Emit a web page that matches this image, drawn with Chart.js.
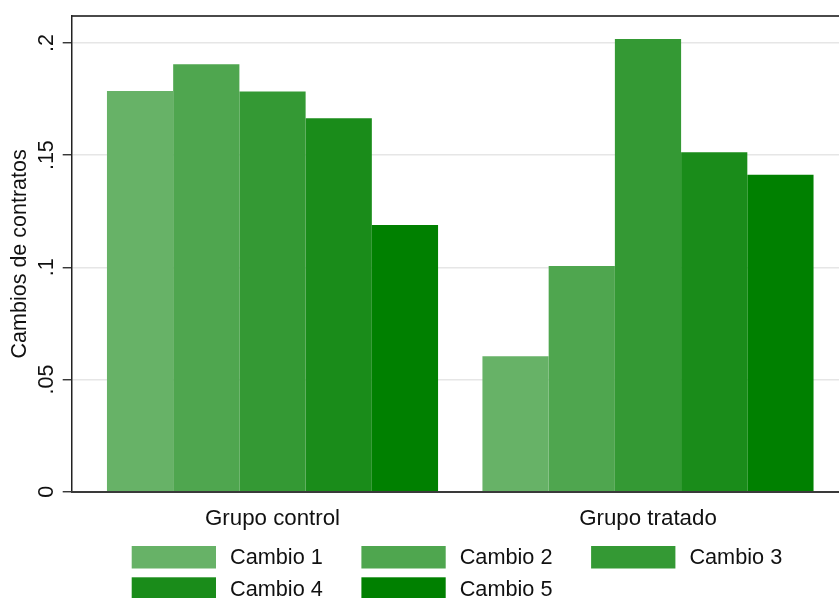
<!DOCTYPE html>
<html>
<head>
<meta charset="utf-8">
<script src="https://cdn.jsdelivr.net/npm/chart.js@4.4.1/dist/chart.umd.min.js"></script>
<style>
  html, body { margin: 0; padding: 0; background: #fff; }
  #wrap { width: 839px; height: 598px; position: relative; }
</style>
</head>
<body>
<div id="wrap"><canvas id="c"></canvas></div>
<script>
// ---- data ----
const categories = ['Grupo control', 'Grupo tratado'];
const seriesLabels = ['Cambio 1', 'Cambio 2', 'Cambio 3', 'Cambio 4', 'Cambio 5'];
const cambio1 = [0.1786, 0.0604];
const cambio2 = [0.1905, 0.1006];
const cambio3 = [0.1784, 0.2018];
const cambio4 = [0.1664, 0.1513];
const cambio5 = [0.1189, 0.1412];
const yTickValues = [0, 0.05, 0.1, 0.15, 0.2];
const yTickLabels = ['0', '.05', '.1', '.15', '.2'];

// ---- style ----
const colors = ['#67b267', '#4fa64f', '#349934', '#1a8c1a', '#008000'];
const FONT = "'Liberation Sans', Arial, sans-serif";
const seriesValues = [cambio1, cambio2, cambio3, cambio4, cambio5];

const datasets = seriesValues.map((vals, s) => ({
  label: seriesLabels[s],
  data: vals.map((v, i) => ({ x: i, y: v })),
  backgroundColor: colors[s],
  borderWidth: 0,
  barPercentage: 1,
  categoryPercentage: 0.8818
}));

const LEG = { x0: 131.7, y0: 546, colW: 229.7, rowH: 31.3, boxW: 84.3, boxH: 22.5, gap: 14, cols: 3, font: 21.7 };

const gridLegend = {
  id: 'gridLegend',
  afterDraw(chart) {
    const ctx = chart.ctx;
    ctx.save();
    ctx.font = LEG.font + 'px ' + FONT;
    ctx.textBaseline = 'middle';
    ctx.textAlign = 'left';
    chart.data.datasets.forEach((ds, i) => {
      const col = i % LEG.cols, row = Math.floor(i / LEG.cols);
      const x = LEG.x0 + col * LEG.colW;
      const y = LEG.y0 + row * LEG.rowH;
      ctx.fillStyle = ds.backgroundColor;
      ctx.fillRect(x, y, LEG.boxW, LEG.boxH);
      ctx.fillStyle = '#111';
      ctx.fillText(ds.label, x + LEG.boxW + LEG.gap, y + LEG.boxH / 2 + 1);
    });
    ctx.restore();
  }
};

new Chart(document.getElementById('c'), {
  type: 'bar',
  data: { datasets },
  plugins: [gridLegend],
  options: {
    responsive: true,
    maintainAspectRatio: false,
    animation: false,
    layout: { padding: 0 },
    plugins: { legend: { display: false }, tooltip: { enabled: false } },
    scales: {
      x: {
        type: 'linear',
        position: 'bottom',
        offset: false,
        min: -0.5348,
        max: 1.5087,
        bounds: 'data',
        grid: { display: false, offset: false },
        border: { display: true, color: '#3a3a3a', width: 2, z: 1 },
        ticks: {
          padding: 6,
          color: '#111',
          font: { family: FONT, size: 22.3 },
          maxRotation: 0,
          callback: (v, i) => categories[i]
        },
        afterBuildTicks: (s) => { s.ticks = categories.map((c, i) => ({ value: i })); },
        afterFit: (s) => { s.height = 106.3; }
      },
      x2: {
        type: 'linear',
        position: 'top',
        grid: { display: false },
        ticks: { display: false },
        border: { display: true, color: '#4a4a4a', width: 2 },
        afterFit: (s) => { s.height = 16; }
      },
      y: {
        type: 'linear',
        position: 'left',
        min: 0,
        max: 0.212,
        bounds: 'data',
        grid: { color: '#e6e6e6', lineWidth: 1.5, tickLength: 9, tickColor: '#222', tickWidth: 1.3 },
        border: { display: true, color: '#222', width: 1.5 },
        ticks: {
          padding: 1,
          color: '#111',
          crossAlign: 'center',
          minRotation: 90,
          maxRotation: 90,
          font: { family: FONT, size: 21.5 },
          callback: (v, i) => yTickLabels[i]
        },
        afterBuildTicks: (s) => { s.ticks = yTickValues.map(v => ({ value: v })); },
        title: {
          display: true,
          text: 'Cambios de contratos',
          color: '#111',
          font: { family: FONT, size: 21.5 },
          padding: { top: 7, bottom: 0 }
        },
        afterFit: (s) => { s.width = 71.7; }
      }
    }
  }
});
</script>
</body>
</html>
